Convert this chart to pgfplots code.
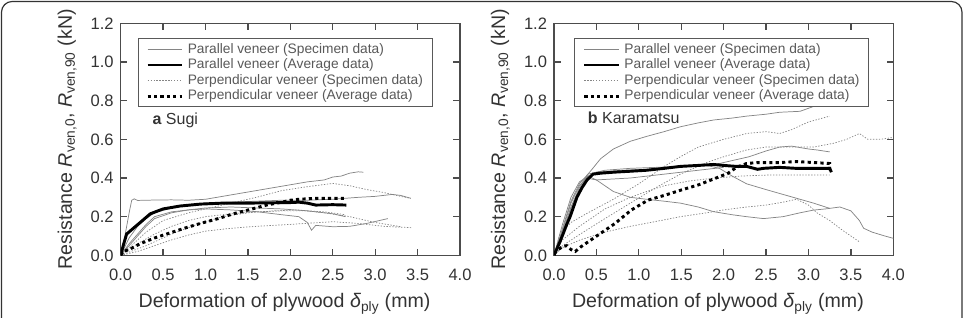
\documentclass[border=0pt]{standalone}
\usepackage{fontspec}
\setmainfont{Liberation Sans}
\usepackage{pgfplots}
\pgfplotsset{compat=1.18}

\definecolor{spec}{gray}{0.52}
\definecolor{axisgray}{gray}{0.3}
\definecolor{txt}{gray}{0.2}

\pgfplotsset{
  parspec/.style={spec, line width=0.55pt},
  paravg/.style={black, line width=2.2pt},
  perpspec/.style={spec, line width=0.55pt, dash pattern=on 1pt off 1.2pt},
  perpavg/.style={black, line width=2.2pt, dash pattern=on 2.4pt off 2.4pt},
  panel/.style={
    scale only axis, width=254.5pt, height=174pt,
    xmin=0, xmax=4, ymin=0, ymax=1.2,
    xtick={0,0.5,...,4}, ytick={0,0.2,...,1.2},
    tick align=inside, major tick length=5pt,
    axis line style={axisgray, line width=1pt},
    every tick/.style={axisgray, line width=0.9pt},
    /pgf/number format/.cd, fixed, fixed zerofill, precision=1, assume math mode=true,
    /pgfplots/.cd,
    ticklabel style={font=\fontsize{12.4}{14}\selectfont, text=txt},
    xticklabel style={yshift=-6.5pt},
    yticklabel style={xshift=-1.7pt},
    label style={font=\fontsize{14.7}{17}\selectfont, text=txt},
    xlabel={Deformation of plywood \textit{δ}\textsubscript{ply} (mm)},
    ylabel={Resistance \textit{R}\textsubscript{ven,0}, \textit{R}\textsubscript{ven,90} (kN)},
    xlabel style={at={(axis description cs:0.483,-0.227)}, anchor=base},
    ylabel style={at={(axis description cs:-0.158,0.5)}, anchor=center},
    legend cell align=left,
    legend image code/.code={\draw[##1] (0pt,0pt) -- (26pt,0pt);},
    legend style={draw=black!65, line width=0.8pt, fill=white,
      font=\fontsize{10.3}{12}\selectfont, text=black!65,
      inner xsep=6pt, inner ysep=2pt, row sep=0pt, column sep=2pt,
      nodes={inner sep=1pt, text height=7.6pt, text depth=2.1pt}},
  },
}

\begin{document}
\begin{tikzpicture}[x=0.75pt, y=0.75pt]
\path[use as bounding box] (0,0) rectangle (965,318);
% outer frame
\draw[black!80, line width=0.9pt, rounded corners=8pt]
  (1.5,0) -- (1.5,316.5) -- (962,316.5) -- (962,0);

% ---------- (a) Sugi ----------
\begin{axis}[panel, at={(90.5pt,47pt)}, anchor=south west,
  legend style={at={(0.05,0.935)}, anchor=north west}]
\addlegendimage{parspec}\addlegendentry{Parallel veneer (Specimen data)}
\addlegendimage{paravg}\addlegendentry{Parallel veneer (Average data)}
\addlegendimage{perpspec}\addlegendentry{Perpendicular veneer (Specimen data)}
\addlegendimage{perpavg}\addlegendentry{Perpendicular veneer (Average data)}
% parallel veneer, specimens
\addplot[parspec, forget plot] coordinates {(0,0) (0.05,0.1) (0.1,0.22) (0.13,0.285) (0.16,0.292) (0.2,0.284) (0.4,0.286) (0.6,0.287) (0.8,0.285) (1.0,0.29) (1.2,0.305) (1.4,0.32) (1.6,0.335) (1.8,0.35) (2.0,0.365) (2.2,0.38) (2.4,0.39) (2.5,0.405) (2.6,0.41) (2.7,0.425) (2.8,0.432) (2.86,0.43)};
\addplot[parspec, forget plot] coordinates {(0,0) (0.1,0.09) (0.2,0.15) (0.3,0.19) (0.4,0.22) (0.6,0.245) (0.8,0.26) (1.0,0.27) (1.3,0.275) (1.6,0.28) (1.9,0.285) (2.2,0.285) (2.5,0.29) (2.8,0.3) (3.0,0.305) (3.2,0.315) (3.3,0.31) (3.42,0.295)};
\addplot[parspec, forget plot] coordinates {(0,0) (0.1,0.06) (0.2,0.11) (0.3,0.16) (0.4,0.2) (0.6,0.225) (0.8,0.235) (1.0,0.24) (1.3,0.235) (1.6,0.226) (1.9,0.21) (2.1,0.2) (2.2,0.17) (2.25,0.13) (2.3,0.155) (2.5,0.148) (2.7,0.15) (2.9,0.165) (3.1,0.185) (3.15,0.19)};
\addplot[parspec, forget plot] coordinates {(0,0) (0.1,0.05) (0.2,0.1) (0.3,0.15) (0.4,0.19) (0.6,0.22) (0.8,0.235) (1.0,0.245) (1.3,0.25) (1.6,0.245) (1.9,0.24) (2.2,0.23) (2.5,0.215) (2.65,0.2)};
% perpendicular veneer, specimens
\addplot[perpspec, forget plot] coordinates {(0,0) (0.1,0.04) (0.3,0.12) (0.5,0.18) (0.8,0.22) (1.0,0.24) (1.3,0.27) (1.6,0.3) (1.9,0.335) (2.2,0.355) (2.5,0.372) (2.7,0.36) (2.9,0.34) (3.1,0.325) (3.3,0.305) (3.42,0.295)};
\addplot[perpspec, forget plot] coordinates {(0,0) (0.2,0.02) (0.4,0.05) (0.6,0.08) (0.8,0.105) (1.0,0.125) (1.3,0.14) (1.6,0.15) (2.0,0.16) (2.5,0.174) (2.8,0.165) (3.1,0.15) (3.43,0.143)};
\addplot[perpspec, forget plot] coordinates {(0,0) (0.2,0.06) (0.4,0.11) (0.6,0.15) (0.8,0.18) (1.0,0.2) (1.3,0.215) (1.6,0.225) (1.9,0.23) (2.2,0.23) (2.4,0.225) (2.65,0.21)};
\addplot[perpspec, forget plot] coordinates {(0,0) (0.3,0.05) (0.6,0.11) (0.9,0.16) (1.2,0.2) (1.5,0.22) (1.8,0.23) (2.1,0.235) (2.4,0.22) (2.7,0.2) (3.0,0.17) (3.3,0.148)};
% averages
\addplot[perpavg, forget plot] coordinates {(0,0) (0.03,0.02) (0.1,0.03) (0.23,0.06) (0.4,0.09) (0.54,0.11) (0.75,0.14) (0.94,0.165) (1.15,0.19) (1.33,0.215) (1.55,0.24) (1.72,0.26) (1.9,0.275) (2.0,0.285) (2.1,0.29) (2.31,0.295) (2.66,0.295)};
\addplot[paravg, forget plot] coordinates {(0,0) (0.03,0.05) (0.07,0.11) (0.15,0.14) (0.23,0.17) (0.35,0.215) (0.5,0.24) (0.7,0.255) (0.94,0.265) (1.2,0.27) (1.5,0.27) (1.8,0.272) (2.0,0.273) (2.1,0.275) (2.2,0.27) (2.3,0.26) (2.5,0.262) (2.66,0.26)};
\node[anchor=base west, font=\fontsize{12}{14}\selectfont, text=txt] at (rel axis cs:0.08,0.566) {\textbf{a} Sugi};
\end{axis}

% ---------- (b) Karamatsu ----------
\begin{axis}[panel, at={(415.5pt,47pt)}, anchor=south west,
  legend style={at={(0.06,0.935)}, anchor=north west}]
\addlegendimage{parspec}\addlegendentry{Parallel veneer (Specimen data)}
\addlegendimage{paravg}\addlegendentry{Parallel veneer (Average data)}
\addlegendimage{perpspec}\addlegendentry{Perpendicular veneer (Specimen data)}
\addlegendimage{perpavg}\addlegendentry{Perpendicular veneer (Average data)}
% parallel veneer, specimens
\addplot[parspec, forget plot] coordinates {(0,0) (0.05,0.06) (0.1,0.14) (0.2,0.28) (0.3,0.37) (0.42,0.43) (0.55,0.5) (0.7,0.55) (0.9,0.59) (1.09,0.615) (1.3,0.64) (1.49,0.665) (1.7,0.685) (1.88,0.7) (2.1,0.71) (2.27,0.72) (2.5,0.73) (2.66,0.74) (2.9,0.745) (3.06,0.77) (3.2,0.78) (3.3,0.8) (3.45,0.83) (3.6,0.86) (3.68,0.865)};
\addplot[parspec, forget plot] coordinates {(0,0) (0.1,0.13) (0.2,0.27) (0.3,0.36) (0.4,0.41) (0.5,0.43) (0.8,0.44) (1.1,0.445) (1.4,0.455) (1.7,0.465) (1.9,0.47) (2.1,0.49) (2.3,0.51) (2.5,0.54) (2.66,0.56) (2.8,0.565) (3.0,0.55) (3.1,0.545) (3.25,0.535)};
\addplot[parspec, forget plot] coordinates {(0,0) (0.1,0.16) (0.2,0.3) (0.3,0.38) (0.4,0.41) (0.5,0.39) (0.7,0.33) (0.9,0.3) (1.09,0.29) (1.3,0.28) (1.49,0.27) (1.7,0.25) (1.88,0.226) (2.1,0.21) (2.27,0.2) (2.47,0.19) (2.7,0.2) (2.9,0.22) (3.06,0.234) (3.2,0.24) (3.37,0.25) (3.5,0.23) (3.6,0.18) (3.65,0.14) (3.75,0.12) (3.9,0.1) (4.0,0.088)};
\addplot[parspec, forget plot] coordinates {(0,0) (0.1,0.12) (0.2,0.25) (0.3,0.35) (0.4,0.42) (0.6,0.44) (0.9,0.45) (1.2,0.455) (1.5,0.46) (1.8,0.465) (1.95,0.45) (2.1,0.41) (2.27,0.37) (2.5,0.34) (2.66,0.32) (2.9,0.29) (3.06,0.27) (3.25,0.243)};
\addplot[parspec, forget plot] coordinates {(0,0) (0.1,0.11) (0.2,0.24) (0.3,0.34) (0.38,0.4) (0.5,0.39) (0.7,0.395) (0.9,0.4) (1.1,0.41) (1.3,0.42) (1.5,0.43) (1.7,0.44) (1.9,0.45) (2.0,0.455)};
% perpendicular veneer, specimens
\addplot[perpspec, forget plot] coordinates {(0,0) (0.07,0.11) (0.2,0.17) (0.4,0.22) (0.7,0.29) (1.0,0.37) (1.3,0.46) (1.49,0.51) (1.7,0.56) (2.0,0.6) (2.27,0.63) (2.5,0.64) (2.66,0.63) (2.8,0.65) (3.0,0.69) (3.25,0.72)};
\addplot[perpspec, forget plot] coordinates {(0,0) (0.1,0.05) (0.31,0.11) (0.6,0.19) (0.9,0.27) (1.2,0.35) (1.49,0.42) (1.8,0.48) (2.0,0.51) (2.27,0.545) (2.5,0.56) (2.8,0.56) (3.06,0.56) (3.3,0.58) (3.45,0.6) (3.6,0.63) (3.7,0.6) (3.85,0.6) (4.0,0.61)};
\addplot[perpspec, forget plot] coordinates {(0,0) (0.1,0.04) (0.31,0.08) (0.6,0.12) (0.9,0.15) (1.2,0.175) (1.49,0.2) (1.8,0.22) (2.0,0.235) (2.27,0.25) (2.5,0.26) (2.7,0.275) (2.86,0.29) (3.0,0.26) (3.1,0.22) (3.25,0.18) (3.4,0.13) (3.6,0.07)};
\addplot[perpspec, forget plot] coordinates {(0,0) (0.1,0.08) (0.3,0.15) (0.6,0.24) (0.9,0.3) (1.09,0.33) (1.3,0.36) (1.6,0.385) (1.9,0.4) (2.2,0.41) (2.5,0.415) (2.8,0.415) (3.06,0.415) (3.25,0.415)};
% averages
\addplot[perpavg, forget plot] coordinates {(0,0.01) (0.05,0.03) (0.1,0.045) (0.15,0.05) (0.2,0.03) (0.25,0.02) (0.32,0.045) (0.42,0.075) (0.52,0.105) (0.72,0.165) (0.91,0.234) (1.11,0.286) (1.3,0.31) (1.5,0.338) (1.7,0.364) (1.9,0.398) (2.05,0.424) (2.15,0.455) (2.27,0.475) (2.4,0.48) (2.66,0.48) (2.86,0.485) (3.06,0.48) (3.25,0.475) (3.25,0.44)};
\addplot[paravg, forget plot] coordinates {(0,0) (0.03,0.03) (0.07,0.07) (0.11,0.114) (0.15,0.16) (0.19,0.2) (0.23,0.25) (0.27,0.3) (0.33,0.35) (0.39,0.39) (0.46,0.42) (0.55,0.425) (0.7,0.43) (0.9,0.435) (1.09,0.44) (1.3,0.45) (1.49,0.46) (1.7,0.465) (1.88,0.47) (2.0,0.465) (2.15,0.46) (2.27,0.46) (2.4,0.445) (2.47,0.45) (2.66,0.455) (2.85,0.45) (3.06,0.45) (3.2,0.45) (3.25,0.45) (3.27,0.43)};
\node[anchor=base west, font=\fontsize{12}{14}\selectfont, text=txt] at (rel axis cs:0.086,0.569) {\textbf{b} Karamatsu};
\end{axis}
\end{tikzpicture}
\end{document}
